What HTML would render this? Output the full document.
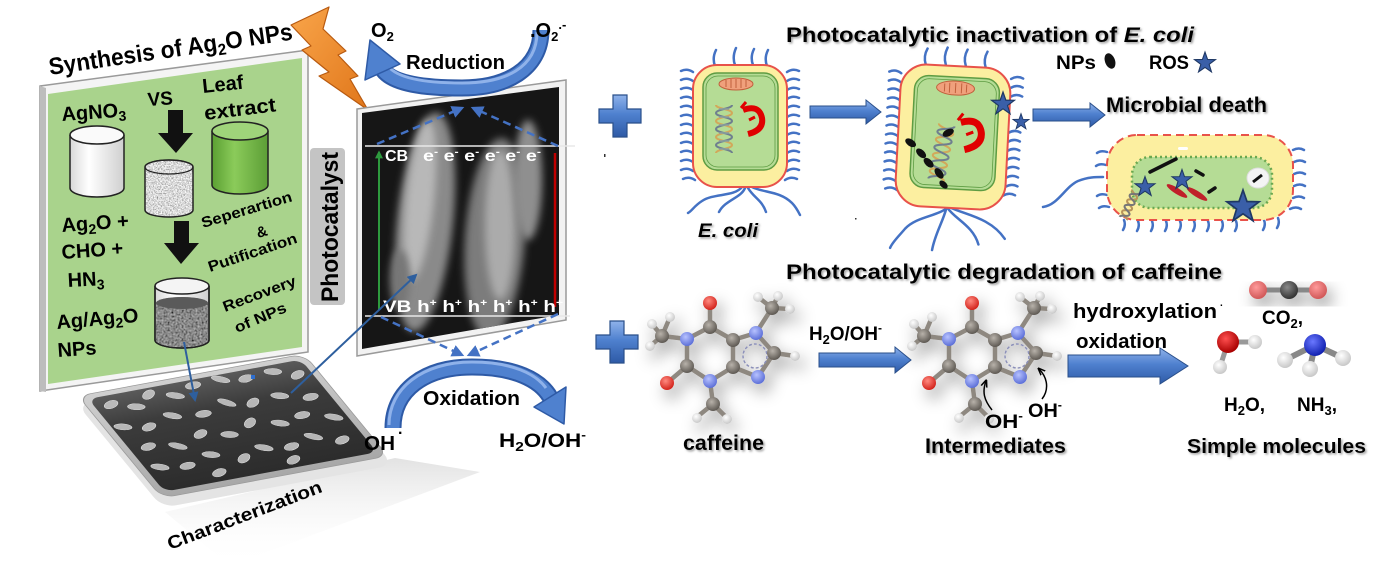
<!DOCTYPE html>
<html><head><meta charset="utf-8">
<style>
html,body{margin:0;padding:0;background:#fff;}
svg{display:block;}
text{font-family:"Liberation Sans",Arial,sans-serif;font-weight:bold;fill:#000;}
</style></head><body>
<svg width="1390" height="574" viewBox="0 0 1390 574" xmlns="http://www.w3.org/2000/svg" xmlns:xlink="http://www.w3.org/1999/xlink">
<defs>
  <linearGradient id="blueV" x1="0" y1="0" x2="0" y2="1">
    <stop offset="0" stop-color="#8fb2ea"/><stop offset="0.45" stop-color="#4f81cf"/><stop offset="1" stop-color="#2e5aa6"/>
  </linearGradient>
  <linearGradient id="orangeG" x1="0" y1="0" x2="1" y2="1">
    <stop offset="0" stop-color="#f9a54a"/><stop offset="1" stop-color="#e0761a"/>
  </linearGradient>
  <linearGradient id="whiteCyl" x1="0" y1="0" x2="1" y2="0">
    <stop offset="0" stop-color="#d8d8d8"/><stop offset="0.35" stop-color="#ffffff"/><stop offset="1" stop-color="#cfcfcf"/>
  </linearGradient>
  <linearGradient id="greenCyl" x1="0" y1="0" x2="1" y2="0">
    <stop offset="0" stop-color="#5aa032"/><stop offset="0.4" stop-color="#8bcb5a"/><stop offset="1" stop-color="#5c9e36"/>
  </linearGradient>
  <linearGradient id="trayRim" x1="0" y1="0" x2="0" y2="1">
    <stop offset="0" stop-color="#d0d0d0"/><stop offset="1" stop-color="#a8a8a8"/>
  </linearGradient>
  <linearGradient id="trayIn" x1="0" y1="0" x2="0" y2="1">
    <stop offset="0" stop-color="#5a5a5a"/><stop offset="0.3" stop-color="#3c3c3c"/><stop offset="1" stop-color="#2c2c2c"/>
  </linearGradient>
  <linearGradient id="refl" x1="0" y1="0" x2="0" y2="1">
    <stop offset="0" stop-color="#cfcfcf" stop-opacity="0.6"/><stop offset="1" stop-color="#ffffff" stop-opacity="0"/>
  </linearGradient>
  <radialGradient id="gC" cx="0.4" cy="0.35" r="0.65"><stop offset="0" stop-color="#b8b2aa"/><stop offset="1" stop-color="#5f5a54"/></radialGradient>
  <radialGradient id="gN" cx="0.4" cy="0.35" r="0.65"><stop offset="0" stop-color="#b7c2ff"/><stop offset="1" stop-color="#5d70d8"/></radialGradient>
  <radialGradient id="gO" cx="0.4" cy="0.35" r="0.65"><stop offset="0" stop-color="#ff8a80"/><stop offset="1" stop-color="#d3241c"/></radialGradient>
  <radialGradient id="gH" cx="0.4" cy="0.35" r="0.65"><stop offset="0" stop-color="#ffffff"/><stop offset="1" stop-color="#c8c8c8"/></radialGradient>
  <radialGradient id="gO2" cx="0.4" cy="0.35" r="0.65"><stop offset="0" stop-color="#ff9a9a"/><stop offset="1" stop-color="#d05858"/></radialGradient>
  <radialGradient id="gCd" cx="0.4" cy="0.35" r="0.65"><stop offset="0" stop-color="#8a8a8a"/><stop offset="1" stop-color="#333"/></radialGradient>
  <radialGradient id="gOr" cx="0.4" cy="0.35" r="0.65"><stop offset="0" stop-color="#ff5050"/><stop offset="1" stop-color="#a80000"/></radialGradient>
  <radialGradient id="gNb" cx="0.4" cy="0.35" r="0.65"><stop offset="0" stop-color="#6a78ff"/><stop offset="1" stop-color="#1020b0"/></radialGradient>
  <filter id="blur4" x="-50%" y="-50%" width="200%" height="200%"><feGaussianBlur stdDeviation="4"/></filter>
  <filter id="msh" x="-40%" y="-40%" width="180%" height="180%">
    <feGaussianBlur in="SourceAlpha" stdDeviation="8" result="b"/>
    <feOffset in="b" dx="5" dy="8" result="o"/>
    <feFlood flood-color="#000" flood-opacity="0.4"/>
    <feComposite in2="o" operator="in" result="s"/>
    <feMerge><feMergeNode in="s"/><feMergeNode in="SourceGraphic"/></feMerge>
  </filter>
  <filter id="tsh" x="-5%" y="-30%" width="110%" height="160%">
    <feDropShadow dx="1.5" dy="1.5" stdDeviation="1" flood-color="#888" flood-opacity="0.8"/>
  </filter>
  <filter id="noise" x="0" y="0" width="100%" height="100%">
    <feTurbulence type="fractalNoise" baseFrequency="0.75" numOctaves="2" seed="4"/>
    <feColorMatrix type="saturate" values="0"/>
    <feComponentTransfer>
      <feFuncR type="linear" slope="1.9" intercept="-0.25"/>
      <feFuncG type="linear" slope="1.9" intercept="-0.25"/>
      <feFuncB type="linear" slope="1.9" intercept="-0.25"/>
      <feFuncA type="table" tableValues="1 1"/>
    </feComponentTransfer>
  </filter>
  <filter id="noiseDark" x="0" y="0" width="100%" height="100%">
    <feTurbulence type="fractalNoise" baseFrequency="0.5" numOctaves="2" seed="7"/>
    <feColorMatrix type="saturate" values="0"/>
    <feComponentTransfer>
      <feFuncR type="linear" slope="0.9" intercept="-0.2"/>
      <feFuncG type="linear" slope="0.9" intercept="-0.2"/>
      <feFuncB type="linear" slope="0.9" intercept="-0.2"/>
      <feFuncA type="table" tableValues="1 1"/>
    </feComponentTransfer>
  </filter>
  <marker id="mBlue" viewBox="0 0 10 10" refX="8" refY="5" markerWidth="5" markerHeight="5" orient="auto">
    <path d="M0,0 L10,5 L0,10 Z" fill="#4472c4"/>
  </marker>
  <marker id="mDark" viewBox="0 0 10 10" refX="8" refY="5" markerWidth="5" markerHeight="5" orient="auto">
    <path d="M0,0 L10,5 L0,10 Z" fill="#2e5f9e"/>
  </marker>
  <marker id="mBlack" viewBox="0 0 10 10" refX="8" refY="5" markerWidth="5" markerHeight="5" orient="auto">
    <path d="M0,1 L10,5 L0,9" fill="none" stroke="#000" stroke-width="2"/>
  </marker>
  <marker id="mGreen" viewBox="0 0 10 10" refX="8" refY="5" markerWidth="4" markerHeight="4" orient="auto">
    <path d="M0,0 L10,5 L0,10 Z" fill="#2e9a3e"/>
  </marker>
  <path id="star" d="M0,-10 L2.35,-3.24 9.51,-3.09 3.8,1.24 5.88,8.09 0,4 -5.88,8.09 -3.8,1.24 -9.51,-3.09 -2.35,-3.24Z" fill="#3a5fa8" stroke="#1f3864" stroke-width="1"/>
  <clipPath id="semClip"><polygon points="362,113 559,87 559,315 362,349"/></clipPath>
  <clipPath id="texCyl"><path d="M145,167 A24,7 0 0 1 193,167 V210 A24,7 0 0 1 145,210 Z"/></clipPath>
  <clipPath id="liqClip"><path d="M156,303 A26,6 0 0 1 208,303 V340 A26,7 0 0 1 156,340 Z"/></clipPath>

  <g id="caf">
    <g stroke="#8e8880" stroke-width="4.5" stroke-linecap="round">
      <line x1="710" y1="303" x2="710" y2="327"/>
      <line x1="710" y1="327" x2="687" y2="339"/>
      <line x1="710" y1="327" x2="733" y2="340"/>
      <line x1="687" y1="339" x2="662" y2="336"/>
      <line x1="662" y1="336" x2="670" y2="317"/>
      <line x1="662" y1="336" x2="650" y2="346"/>
      <line x1="662" y1="336" x2="652" y2="324"/>
      <line x1="687" y1="339" x2="687" y2="366"/>
      <line x1="687" y1="366" x2="667" y2="383"/>
      <line x1="687" y1="366" x2="710" y2="381"/>
      <line x1="710" y1="381" x2="713" y2="404"/>
      <line x1="713" y1="404" x2="697" y2="417"/>
      <line x1="713" y1="404" x2="727" y2="418"/>
      <line x1="710" y1="381" x2="733" y2="367"/>
      <line x1="733" y1="367" x2="733" y2="340"/>
      <line x1="733" y1="340" x2="756" y2="333"/>
      <line x1="756" y1="333" x2="772" y2="308"/>
      <line x1="772" y1="308" x2="758" y2="297"/>
      <line x1="772" y1="308" x2="790" y2="309"/>
      <line x1="772" y1="308" x2="778" y2="296"/>
      <line x1="756" y1="333" x2="774" y2="353"/>
      <line x1="774" y1="353" x2="795" y2="356"/>
      <line x1="774" y1="353" x2="758" y2="377"/>
      <line x1="758" y1="377" x2="733" y2="367"/>
    </g>
    <circle cx="755" cy="356" r="12" fill="none" stroke="#8c90b8" stroke-width="1.5" stroke-dasharray="3 2"/>
    <g>
      <circle cx="670" cy="317" r="5" fill="url(#gH)"/>
      <circle cx="650" cy="346" r="5" fill="url(#gH)"/>
      <circle cx="652" cy="324" r="5" fill="url(#gH)"/>
      <circle cx="697" cy="418" r="5" fill="url(#gH)"/>
      <circle cx="727" cy="419" r="5" fill="url(#gH)"/>
      <circle cx="758" cy="297" r="5" fill="url(#gH)"/>
      <circle cx="790" cy="309" r="5" fill="url(#gH)"/>
      <circle cx="778" cy="296" r="5" fill="url(#gH)"/>
      <circle cx="795" cy="356" r="5" fill="url(#gH)"/>
      <circle cx="710" cy="303" r="7" fill="url(#gO)"/>
      <circle cx="667" cy="383" r="7" fill="url(#gO)"/>
      <circle cx="710" cy="327" r="7" fill="url(#gC)"/>
      <circle cx="662" cy="336" r="7" fill="url(#gC)"/>
      <circle cx="687" cy="366" r="7" fill="url(#gC)"/>
      <circle cx="713" cy="404" r="7" fill="url(#gC)"/>
      <circle cx="733" cy="367" r="7" fill="url(#gC)"/>
      <circle cx="733" cy="340" r="7" fill="url(#gC)"/>
      <circle cx="772" cy="308" r="7" fill="url(#gC)"/>
      <circle cx="774" cy="353" r="7" fill="url(#gC)"/>
      <circle cx="687" cy="339" r="7" fill="url(#gN)"/>
      <circle cx="710" cy="381" r="7" fill="url(#gN)"/>
      <circle cx="756" cy="333" r="7" fill="url(#gN)"/>
      <circle cx="758" cy="377" r="7" fill="url(#gN)"/>
    </g>
  </g>
</defs>

<!-- ============ LEFT: SYNTHESIS PANEL ============ -->
<polygon points="40,86 308,50 308,352 40,391" fill="#f4f4f4" stroke="#9a9a9a" stroke-width="1.5"/>
<polygon points="40,86 46,88 46,392 40,391" fill="#bdbdbd"/>
<polygon points="48,94 302,58 302,347 48,384" fill="#a9d38c"/>

<g transform="translate(50,75) rotate(-8.3)">
  <text x="0" y="0" font-size="24" textLength="246" lengthAdjust="spacingAndGlyphs">Synthesis of Ag<tspan font-size="16" dy="5">2</tspan><tspan dy="-5">O NPs</tspan></text>
</g>

<!-- lightning -->
<polygon points="329,7 291,25 311,46 302,50 329,72 319,76 368,110 350,79 358,76 338,55 346,51 323,29" fill="url(#orangeG)" stroke="#b85a10" stroke-width="1.2" stroke-linejoin="round"/>

<!-- texts in panel -->
<text x="62" y="121" font-size="20" transform="rotate(-4 62 121)">AgNO<tspan font-size="14" dy="4">3</tspan></text>
<text x="148" y="106" font-size="19" transform="rotate(-4 148 106)">VS</text>
<text x="203" y="93" font-size="20" transform="rotate(-6 203 93)">Leaf</text>
<text x="205" y="120" font-size="20" textLength="72" lengthAdjust="spacingAndGlyphs" transform="rotate(-7 205 120)">extract</text>
<text x="62" y="232" font-size="20" transform="rotate(-4 62 232)">Ag<tspan font-size="14" dy="4">2</tspan><tspan dy="-4">O +</tspan></text>
<text x="62" y="259" font-size="20" transform="rotate(-4 62 259)">CHO +</text>
<text x="68" y="287" font-size="20" transform="rotate(-3 68 287)">HN<tspan font-size="14" dy="4">3</tspan></text>
<text x="57" y="329" font-size="20" transform="rotate(-5 57 329)">Ag/Ag<tspan font-size="14" dy="4">2</tspan><tspan dy="-4">O</tspan></text>
<text x="58" y="357" font-size="20" transform="rotate(-4 58 357)">NPs</text>
<text x="0" y="0" font-size="15" textLength="94" lengthAdjust="spacingAndGlyphs" transform="translate(203,228) rotate(-16.7)">Seperartion</text>
<text x="0" y="0" font-size="15" transform="translate(258,238) rotate(-16)">&amp;</text>
<text x="0" y="0" font-size="15" textLength="93" lengthAdjust="spacingAndGlyphs" transform="translate(210,272) rotate(-18.5)">Putification</text>
<text x="0" y="0" font-size="15" textLength="77" lengthAdjust="spacingAndGlyphs" transform="translate(225,312) rotate(-20.5)">Recovery</text>
<text x="0" y="0" font-size="15" textLength="55" lengthAdjust="spacingAndGlyphs" transform="translate(237,333) rotate(-23)">of NPs</text>

<!-- white cylinder -->
<path d="M70,135 V188 A27,9 0 0 0 124,188 V135" fill="url(#whiteCyl)" stroke="#222" stroke-width="1.5"/>
<ellipse cx="97" cy="135" rx="27" ry="9" fill="#fafafa" stroke="#222" stroke-width="1.5"/>
<!-- textured cylinder -->
<rect x="140" y="155" width="60" height="65" fill="#999" filter="url(#noise)" clip-path="url(#texCyl)"/>
<path d="M145,167 A24,7 0 0 1 193,167 V210 A24,7 0 0 1 145,210 Z" fill="none" stroke="#222" stroke-width="1.5"/>
<ellipse cx="169" cy="167" rx="24" ry="7" fill="none" stroke="#222" stroke-width="1.2"/>
<!-- green cylinder -->
<path d="M212,131 V185 A28,9 0 0 0 268,185 V131" fill="url(#greenCyl)" stroke="#222" stroke-width="1.5"/>
<ellipse cx="240" cy="131" rx="28" ry="9" fill="#9fd47a" stroke="#222" stroke-width="1.5"/>
<!-- black arrows -->
<path d="M168,110 H183 V133 H193 L176,153 L158,133 H168 Z" fill="#111"/>
<path d="M174,221 H189 V243 H199 L181,264 L164,243 H174 Z" fill="#111"/>
<!-- beaker -->
<path d="M155,286 V340 A27,8 0 0 0 209,340 V286" fill="url(#whiteCyl)" stroke="#222" stroke-width="1.5"/>
<rect x="150" y="295" width="65" height="55" fill="#444" filter="url(#noiseDark)" clip-path="url(#liqClip)"/>
<ellipse cx="182" cy="303" rx="26" ry="6" fill="#5a5a5a"/>
<path d="M155,286 V340 A27,8 0 0 0 209,340 V286" fill="none" stroke="#222" stroke-width="1.5"/>
<ellipse cx="182" cy="286" rx="27" ry="8" fill="#f4f4f4" stroke="#222" stroke-width="1.5"/>

<!-- Photocatalyst label -->
<rect x="310" y="148" width="35" height="157" rx="4" fill="#c4c4c4"/>
<text x="0" y="0" font-size="24" text-anchor="middle" textLength="150" lengthAdjust="spacingAndGlyphs" transform="translate(338,227) rotate(-90)">Photocatalyst</text>

<!-- ============ TRAY ============ -->
<polygon points="165,512 395,458 480,472 230,566" fill="url(#refl)"/>
<g transform="matrix(1.13,-0.21,0.7,0.85,78,402)">
  <rect x="-2" y="2" width="204" height="122" rx="12" fill="#e4e4e4"/>
</g>
<g transform="matrix(1.13,-0.21,0.7,0.85,78,396)">
  <rect x="0" y="0" width="200" height="120" rx="11" fill="url(#trayRim)" stroke="#9a9a9a" stroke-width="0.8"/>
  <rect x="6" y="5" width="188" height="109" rx="8" fill="url(#trayIn)"/>
  <g fill="#cdcdcd" fill-opacity="0.85" stroke="#eeeeee" stroke-width="0.4">
    <ellipse cx="20" cy="15" rx="7" ry="3.5" transform="rotate(-20 20 15)"/>
    <ellipse cx="38" cy="22" rx="7" ry="3.5" transform="rotate(10 38 22)"/>
    <ellipse cx="55" cy="12" rx="7" ry="3.5" transform="rotate(-30 55 12)"/>
    <ellipse cx="75" cy="18" rx="7" ry="3.5" transform="rotate(20 75 18)"/>
    <ellipse cx="95" cy="11" rx="7" ry="3.5" transform="rotate(-10 95 11)"/>
    <ellipse cx="120" cy="10" rx="7" ry="3.5" transform="rotate(30 120 10)"/>
    <ellipse cx="140" cy="14" rx="7" ry="3.5" transform="rotate(-15 140 14)"/>
    <ellipse cx="165" cy="12" rx="7" ry="3.5" transform="rotate(10 165 12)"/>
    <ellipse cx="182" cy="20" rx="7" ry="3.5" transform="rotate(-25 182 20)"/>
    <ellipse cx="15" cy="40" rx="7" ry="3.5" transform="rotate(15 15 40)"/>
    <ellipse cx="35" cy="45" rx="7" ry="3.5" transform="rotate(-20 35 45)"/>
    <ellipse cx="60" cy="38" rx="7" ry="3.5" transform="rotate(25 60 38)"/>
    <ellipse cx="85" cy="42" rx="7" ry="3.5" transform="rotate(-5 85 42)"/>
    <ellipse cx="110" cy="35" rx="7" ry="3.5" transform="rotate(40 110 35)"/>
    <ellipse cx="130" cy="40" rx="7" ry="3.5" transform="rotate(-30 130 40)"/>
    <ellipse cx="155" cy="38" rx="7" ry="3.5" transform="rotate(15 155 38)"/>
    <ellipse cx="178" cy="45" rx="7" ry="3.5" transform="rotate(-10 178 45)"/>
    <ellipse cx="22" cy="65" rx="7" ry="3.5" transform="rotate(-15 22 65)"/>
    <ellipse cx="45" cy="70" rx="7" ry="3.5" transform="rotate(30 45 70)"/>
    <ellipse cx="70" cy="62" rx="7" ry="3.5" transform="rotate(-25 70 62)"/>
    <ellipse cx="92" cy="68" rx="7" ry="3.5" transform="rotate(10 92 68)"/>
    <ellipse cx="115" cy="60" rx="7" ry="3.5" transform="rotate(-35 115 60)"/>
    <ellipse cx="138" cy="66" rx="7" ry="3.5" transform="rotate(20 138 66)"/>
    <ellipse cx="160" cy="62" rx="7" ry="3.5" transform="rotate(-10 160 62)"/>
    <ellipse cx="183" cy="70" rx="7" ry="3.5" transform="rotate(25 183 70)"/>
    <ellipse cx="18" cy="88" rx="7" ry="3.5" transform="rotate(20 18 88)"/>
    <ellipse cx="40" cy="92" rx="7" ry="3.5" transform="rotate(-10 40 92)"/>
    <ellipse cx="65" cy="85" rx="7" ry="3.5" transform="rotate(15 65 85)"/>
    <ellipse cx="88" cy="95" rx="7" ry="3.5" transform="rotate(-30 88 95)"/>
    <ellipse cx="110" cy="88" rx="7" ry="3.5" transform="rotate(25 110 88)"/>
    <ellipse cx="132" cy="92" rx="7" ry="3.5" transform="rotate(-15 132 92)"/>
    <ellipse cx="155" cy="86" rx="7" ry="3.5" transform="rotate(30 155 86)"/>
    <ellipse cx="175" cy="95" rx="7" ry="3.5" transform="rotate(-20 175 95)"/>
    <ellipse cx="60" cy="105" rx="7" ry="3.5" transform="rotate(-20 60 105)"/>
    <ellipse cx="125" cy="106" rx="7" ry="3.5" transform="rotate(-25 125 106)"/>
  </g>
</g>
<text x="0" y="0" font-size="18" textLength="164" lengthAdjust="spacingAndGlyphs" transform="translate(170,550) rotate(-20.8)">Characterization</text>

<!-- ============ SEM PANEL ============ -->
<polygon points="357,109 566,80 566,320 357,356" fill="#f2f2f2" stroke="#9a9a9a" stroke-width="1.5"/>
<polygon points="362,113 559,87 559,315 362,349" fill="#161616"/>
<g clip-path="url(#semClip)">
  <ellipse cx="425" cy="222" rx="28" ry="110" transform="rotate(6 425 222)" fill="#8a8a8a" filter="url(#blur4)"/>
  <ellipse cx="420" cy="200" rx="14" ry="80" transform="rotate(6 420 200)" fill="#b8b8b8" filter="url(#blur4)"/>
  <ellipse cx="495" cy="238" rx="30" ry="100" transform="rotate(4 495 238)" fill="#7c7c7c" filter="url(#blur4)"/>
  <ellipse cx="500" cy="225" rx="15" ry="75" fill="#ababab" filter="url(#blur4)"/>
  <ellipse cx="528" cy="180" rx="14" ry="60" fill="#8f8f8f" filter="url(#blur4)"/>
  <ellipse cx="400" cy="280" rx="10" ry="30" fill="#777" filter="url(#blur4)"/>
</g>
<line x1="365" y1="146" x2="575" y2="146" stroke="#e8e8e8" stroke-width="1.5"/>
<line x1="365" y1="316" x2="570" y2="316" stroke="#e8e8e8" stroke-width="1.5"/>
<line x1="379" y1="310" x2="379" y2="152" stroke="#2e9a3e" stroke-width="2" marker-end="url(#mGreen)"/>
<line x1="555" y1="307" x2="555" y2="153" stroke="#c00000" stroke-width="2.5"/>
<text x="385" y="161" font-size="16" style="fill:#fff">CB</text>
<text x="423" y="161" font-size="16" style="fill:#fff" textLength="118" lengthAdjust="spacingAndGlyphs">e<tspan font-size="10" dy="-6">-</tspan><tspan dy="6"> e</tspan><tspan font-size="10" dy="-6">-</tspan><tspan dy="6"> e</tspan><tspan font-size="10" dy="-6">-</tspan><tspan dy="6"> e</tspan><tspan font-size="10" dy="-6">-</tspan><tspan dy="6"> e</tspan><tspan font-size="10" dy="-6">-</tspan><tspan dy="6"> e</tspan><tspan font-size="10" dy="-6">-</tspan></text>
<text x="383" y="312" font-size="17" style="fill:#fff" textLength="180" lengthAdjust="spacingAndGlyphs">VB h<tspan font-size="10" dy="-6">+</tspan><tspan dy="6"> h</tspan><tspan font-size="10" dy="-6">+</tspan><tspan dy="6"> h</tspan><tspan font-size="10" dy="-6">+</tspan><tspan dy="6"> h</tspan><tspan font-size="10" dy="-6">+</tspan><tspan dy="6"> h</tspan><tspan font-size="10" dy="-6">+</tspan><tspan dy="6"> h</tspan><tspan font-size="10" dy="-6">+</tspan></text>
<!-- dashed arrows -->
<g stroke="#4472c4" stroke-width="2.5" stroke-dasharray="8 5" fill="none">
  <line x1="377" y1="144" x2="462" y2="108" marker-end="url(#mBlue)"/>
  <line x1="558" y1="146" x2="473" y2="108" marker-end="url(#mBlue)"/>
  <line x1="381" y1="317" x2="462" y2="355" marker-end="url(#mBlue)"/>
  <line x1="558" y1="314" x2="469" y2="355" marker-end="url(#mBlue)"/>
</g>
<!-- solid connectors -->
<line x1="291" y1="393" x2="416" y2="275" stroke="#2e5f9e" stroke-width="2" marker-end="url(#mDark)"/>
<line x1="184" y1="342" x2="195" y2="400" stroke="#2e5f9e" stroke-width="2" marker-end="url(#mDark)"/>
<rect x="251" y="375" width="4" height="4" fill="#2e6fd0"/>

<!-- ============ REDUCTION ARC ============ -->
<path d="M541,30 C541,70 505,88 462,88 C425,88 393,84 383,70" fill="none" stroke="#2e5aa6" stroke-width="17"/>
<path d="M541,30 C541,70 505,88 462,88 C425,88 393,84 383,70" fill="none" stroke="#4f81cf" stroke-width="13"/>
<path d="M537,32 C537,68 505,83 462,83 C428,83 398,79 388,66" fill="none" stroke="#8fb2ea" stroke-width="3"/>
<polygon points="400,64 365,80 370,40" fill="#4f81cf" stroke="#2e5aa6" stroke-width="1.5" stroke-linejoin="round"/>
<text x="406" y="69" font-size="20" textLength="99" lengthAdjust="spacingAndGlyphs">Reduction</text>
<text x="371" y="37" font-size="20">O<tspan font-size="13" dy="4">2</tspan></text>
<text x="530" y="37" font-size="20">.O<tspan font-size="13" dy="4">2</tspan><tspan font-size="13" dy="-12">.-</tspan></text>

<!-- ============ OXIDATION ARC ============ -->
<path d="M393,428 C393,390 425,367 472,367 C515,367 540,380 550,397" fill="none" stroke="#2e5aa6" stroke-width="17"/>
<path d="M393,428 C393,390 425,367 472,367 C515,367 540,380 550,397" fill="none" stroke="#4f81cf" stroke-width="13"/>
<path d="M389,425 C389,388 423,362 472,362 C512,362 536,374 546,388" fill="none" stroke="#8fb2ea" stroke-width="3"/>
<polygon points="534,407 566,387 564,424" fill="#4f81cf" stroke="#2e5aa6" stroke-width="1.5" stroke-linejoin="round"/>
<text x="423" y="405" font-size="20" textLength="97" lengthAdjust="spacingAndGlyphs">Oxidation</text>
<text x="364" y="450" font-size="20" textLength="31" lengthAdjust="spacingAndGlyphs">OH</text>
<text x="398" y="434" font-size="16">.</text>
<text x="499" y="447" font-size="19" textLength="87" lengthAdjust="spacingAndGlyphs">H<tspan font-size="13" dy="4">2</tspan><tspan dy="-4">O/OH</tspan><tspan font-size="12" dy="-8">-</tspan></text>

<!-- ============ PLUS SIGNS ============ -->
<path d="M613,95 h14 v14 h14 v14 h-14 v14 h-14 v-14 h-14 v-14 h14 Z" fill="url(#blueV)" stroke="#2a4f8a" stroke-width="1.2"/>
<path d="M610,321 h14 v14 h14 v14 h-14 v14 h-14 v-14 h-14 v-14 h14 Z" fill="url(#blueV)" stroke="#2a4f8a" stroke-width="1.2"/>
<rect x="604" y="154" width="1.5" height="3" fill="#333"/>

<!-- ============ RIGHT TOP: E. COLI ============ -->
<text x="786" y="42" font-size="21" textLength="408" lengthAdjust="spacingAndGlyphs" filter="url(#tsh)">Photocatalytic  inactivation of <tspan font-style="italic">E. coli</tspan></text>
<text x="1056" y="69" font-size="19" textLength="40" lengthAdjust="spacingAndGlyphs">NPs</text>
<ellipse cx="1110" cy="61" rx="5" ry="8" transform="rotate(-20 1110 61)" fill="#111"/>
<text x="1149" y="69" font-size="19" textLength="40" lengthAdjust="spacingAndGlyphs">ROS</text>
<use xlink:href="#star" href="#star" transform="translate(1205,63) scale(1.1)"/>

<!-- cell 1 -->
<g fill="none" stroke="#4472c4" stroke-width="2.5" stroke-linecap="round">
  <path d="M693,72 q-6,-4 -12,-1 M693,81 q-6,-4 -12,-1 M693,90 q-6,-4 -12,-1 M693,99 q-6,-4 -12,-1 M693,108 q-6,-4 -12,-1 M693,117 q-6,-4 -12,-1 M693,126 q-6,-4 -12,-1 M693,135 q-6,-4 -12,-1 M693,144 q-6,-4 -12,-1 M693,153 q-6,-4 -12,-1 M693,162 q-6,-4 -12,-1 M693,171 q-6,-4 -12,-1 M695,180 q-6,-4 -12,-1"/>
  <path d="M787,72 q6,-4 12,-1 M787,81 q6,-4 12,-1 M787,90 q6,-4 12,-1 M787,99 q6,-4 12,-1 M787,108 q6,-4 12,-1 M787,117 q6,-4 12,-1 M787,126 q6,-4 12,-1 M787,135 q6,-4 12,-1 M787,144 q6,-4 12,-1 M787,153 q6,-4 12,-1 M787,162 q6,-4 12,-1 M787,171 q6,-4 12,-1 M785,180 q6,-4 12,-1"/>
  <path d="M715,66 q-3,-8 1,-16 M735,65 q-3,-8 1,-17 M753,65 q-3,-8 1,-16 M767,66 q-3,-8 1,-16"/>
  <path d="M742,187 c-8,10 -28,6 -40,14 c-8,5 -10,10 -14,12"/>
  <path d="M745,188 c-4,10 -20,12 -26,24"/>
  <path d="M748,188 c6,10 14,12 18,24"/>
  <path d="M752,187 c12,6 28,4 40,16 c4,4 6,8 8,12"/>
</g>
<rect x="693" y="65" width="94" height="122" rx="24" fill="#fcefa0" stroke="#e8524a" stroke-width="2"/>
<rect x="703" y="73" width="75" height="97" rx="14" fill="#b5dc95" stroke="#5e9c43" stroke-width="1.5"/>
<rect x="706" y="76" width="69" height="91" rx="12" fill="none" stroke="#5e9c43" stroke-width="0.8"/>
<ellipse cx="736" cy="84" rx="17" ry="6" fill="#f0a07c" stroke="#c0603c" stroke-width="1"/>
<path d="M726,80 v7 M731,79 v9 M736,79 v9 M741,79 v9 M746,80 v7" stroke="#c0603c" stroke-width="1"/>
<g fill="none" stroke-width="2">
  <path d="M716,105 C716,109 732,109 732,113 S716,117 716,121 S732,125 732,129 S716,133 716,137 S732,141 732,145 S716,149 716,153" stroke="#d2a85a"/>
  <path d="M732,105 C732,109 716,109 716,113 S732,117 732,121 S716,125 716,129 S732,133 732,137 S716,141 716,145 S732,149 732,153" stroke="#6f7f8f"/>
  <path d="M719,109 h10 M719,117 h10 M719,125 h10 M719,133 h10 M719,141 h10 M719,149 h10" stroke="#8aa0a0" stroke-width="1.5"/>
</g>
<path d="M743,110 q16,-6 19,8 q2,12 -14,16" fill="none" stroke="#e00000" stroke-width="6"/>
<path d="M741,108 l5,-6 M749,120 l6,-3" stroke="#e00000" stroke-width="3"/>
<text x="698" y="237" font-size="19" font-style="italic" textLength="60" lengthAdjust="spacingAndGlyphs" filter="url(#tsh)">E. coli</text>
<rect x="855" y="218" width="1.5" height="1.5" fill="#333"/>

<!-- arrow 1 -->
<path d="M810,106 H866 V100 L881,112 L866,124 V118 H810 Z" fill="url(#blueV)" stroke="#2a4f8a" stroke-width="1"/>

<!-- cell 2 -->
<g transform="rotate(3 953 137)">
  <g fill="none" stroke="#4472c4" stroke-width="2.5" stroke-linecap="round">
    <path d="M898,76 q-6,-4 -12,-1 M898,85 q-6,-4 -12,-1 M898,94 q-6,-4 -12,-1 M898,103 q-6,-4 -12,-1 M898,112 q-6,-4 -12,-1 M898,121 q-6,-4 -12,-1 M898,130 q-6,-4 -12,-1 M898,139 q-6,-4 -12,-1 M898,148 q-6,-4 -12,-1 M898,157 q-6,-4 -12,-1 M898,166 q-6,-4 -12,-1 M898,175 q-6,-4 -12,-1 M898,184 q-6,-4 -12,-1 M900,193 q-6,-4 -12,-1"/>
    <path d="M1008,76 q6,-4 12,-1 M1008,85 q6,-4 12,-1 M1008,94 q6,-4 12,-1 M1008,130 q6,-4 12,-1 M1008,139 q6,-4 12,-1 M1008,148 q6,-4 12,-1 M1008,157 q6,-4 12,-1 M1008,166 q6,-4 12,-1 M1008,175 q6,-4 12,-1 M1008,184 q6,-4 12,-1 M1006,193 q6,-4 12,-1"/>
    <path d="M922,66 q-3,-8 1,-16 M942,65 q-3,-8 1,-17 M962,65 q-3,-8 1,-16 M982,66 q-3,-8 1,-16"/>
    <path d="M950,209 c-10,8 -30,10 -40,22 c-6,8 -12,14 -14,20"/>
    <path d="M950,209 c-3,14 -10,26 -12,42"/>
    <path d="M952,209 c8,10 26,16 32,34"/>
    <path d="M955,208 c15,6 40,8 55,28"/>
  </g>
  <rect x="898" y="66" width="110" height="142" rx="26" fill="#fcefa0" stroke="#e8524a" stroke-width="2"/>
  <rect x="912" y="77" width="85" height="112" rx="14" fill="#b5dc95" stroke="#5e9c43" stroke-width="1.5"/>
  <rect x="915" y="80" width="79" height="106" rx="12" fill="none" stroke="#5e9c43" stroke-width="0.8"/>
  <ellipse cx="953" cy="88" rx="19" ry="7" fill="#f0a07c" stroke="#c0603c" stroke-width="1"/>
  <path d="M942,84 v8 M947,83 v10 M953,83 v10 M959,83 v10 M964,84 v8" stroke="#c0603c" stroke-width="1"/>
  <g fill="none" stroke-width="2" transform="rotate(8 942 155)">
    <path d="M934,125 C934,129 950,129 950,133 S934,137 934,141 S950,145 950,149 S934,153 934,157 S950,161 950,165 S934,169 934,173 S950,177 950,181" stroke="#d2a85a"/>
    <path d="M950,125 C950,129 934,129 934,133 S950,137 950,141 S934,145 934,149 S950,153 950,157 S934,161 934,165 S950,169 950,173 S934,177 934,181" stroke="#6f7f8f"/>
  </g>
  <path d="M960,122 q18,-6 21,9 q2,13 -16,18" fill="none" stroke="#e00000" stroke-width="7"/>
  <path d="M957,120 l5,-7 M966,134 l7,-3" stroke="#e00000" stroke-width="3"/>
  <g fill="#111">
    <ellipse cx="911" cy="145" rx="6" ry="3.5" transform="rotate(30 911 145)"/>
    <ellipse cx="922" cy="155" rx="6" ry="3.5" transform="rotate(40 922 155)"/>
    <ellipse cx="930" cy="164" rx="6" ry="3.5" transform="rotate(40 930 164)"/>
    <ellipse cx="941" cy="174" rx="6" ry="3.5" transform="rotate(50 941 174)"/>
    <ellipse cx="948" cy="133" rx="6" ry="3.5" transform="rotate(-30 948 133)"/>
    <ellipse cx="946" cy="185" rx="5" ry="3" transform="rotate(40 946 185)"/>
  </g>
</g>
<use xlink:href="#star" href="#star" transform="translate(1003,104) scale(1.2)"/>
<use xlink:href="#star" href="#star" transform="translate(1021,122) scale(0.85)"/>

<!-- arrow 2 -->
<path d="M1033,109 H1090 V103 L1105,115 L1090,127 V121 H1033 Z" fill="url(#blueV)" stroke="#2a4f8a" stroke-width="1"/>
<text x="1106" y="112" font-size="21" textLength="161" lengthAdjust="spacingAndGlyphs" filter="url(#tsh)">Microbial death</text>

<!-- dead cell -->
<g fill="none" stroke="#4472c4" stroke-width="2.5" stroke-linecap="round">
  <path d="M1043,207 c15,-2 22,-20 35,-26 c10,-4 18,-4 25,-4"/>
  <path d="M1124,220 q2,5 -1,10 M1138,221 q2,5 -1,10 M1152,221 q2,5 -1,10 M1166,221 q2,5 -1,10 M1180,221 q2,5 -1,10 M1194,221 q2,5 -1,10 M1208,221 q2,5 -1,10 M1222,221 q2,5 -1,10 M1236,221 q2,5 -1,10 M1264,220 q2,5 -1,10 M1278,218 q2,5 -1,10"/>
  <path d="M1293,150 q6,-3 11,0 M1294,162 q6,-3 11,0 M1294,174 q6,-3 11,0 M1294,186 q6,-3 11,0 M1293,198 q6,-3 11,0 M1290,209 q6,-3 11,0"/>
  <path d="M1107,152 q-6,-2 -10,1 M1106,165 q-6,-2 -10,1 M1107,195 q-6,-2 -10,1 M1109,207 q-6,-2 -10,1"/>
</g>
<rect x="1107" y="135" width="186" height="85" rx="30" fill="#fcefa0" stroke="#e8524a" stroke-width="2" stroke-dasharray="8 5"/>
<rect x="1132" y="157" width="140" height="51" rx="18" fill="#b5dc95" stroke="#6aa84f" stroke-width="2.5" stroke-dasharray="2 3"/>
<rect x="1178" y="147" width="10" height="3" rx="1.5" fill="#fff"/>
<ellipse cx="1258" cy="178" rx="11" ry="10" fill="#f4f4f4" stroke="#ddd"/>
<path d="M1253,182 l9,-7" stroke="#111" stroke-width="3"/>
<path d="M1150,172 l26,-13 M1196,171 l7,4 M1209,192 l6,-4" stroke="#111" stroke-width="3.5" stroke-linecap="round"/>
<ellipse cx="1177" cy="191" rx="12" ry="3" transform="rotate(32 1177 191)" fill="#c0202a"/>
<ellipse cx="1197" cy="194" rx="12" ry="3" transform="rotate(32 1197 194)" fill="#c0202a"/>
<g fill="none" stroke-width="2" transform="rotate(25 1130 204)">
  <path d="M1126,190 C1126,193 1134,193 1134,196 S1126,199 1126,202 S1134,205 1134,208 S1126,211 1126,214 S1134,217 1134,220" stroke="#b8945a"/>
  <path d="M1134,190 C1134,193 1126,193 1126,196 S1134,199 1134,202 S1126,205 1126,208 S1134,211 1134,214 S1126,217 1126,220" stroke="#777"/>
</g>
<use xlink:href="#star" href="#star" transform="translate(1145,187) scale(1.05)"/>
<use xlink:href="#star" href="#star" transform="translate(1182,180) scale(1.05)"/>
<use xlink:href="#star" href="#star" transform="translate(1243,207) scale(1.7)"/>

<!-- ============ RIGHT BOTTOM: CAFFEINE ============ -->
<text x="786" y="279" font-size="21" textLength="436" lengthAdjust="spacingAndGlyphs" filter="url(#tsh)">Photocatalytic  degradation of caffeine</text>

<g filter="url(#msh)"><use xlink:href="#caf" href="#caf"/></g>
<g filter="url(#msh)"><use xlink:href="#caf" href="#caf" x="262"/></g>

<text x="683" y="450" font-size="21" textLength="81" lengthAdjust="spacingAndGlyphs" filter="url(#tsh)">caffeine</text>
<text x="809" y="340" font-size="19" textLength="73" lengthAdjust="spacingAndGlyphs">H<tspan font-size="13" dy="4">2</tspan><tspan dy="-4">O/OH</tspan><tspan font-size="12" dy="-8">-</tspan></text>
<path d="M819,353 H895 V347 L911,360 L895,373 V367 H819 Z" fill="url(#blueV)" stroke="#2a4f8a" stroke-width="1"/>

<path d="M992,410 C984,400 982,392 986,381" fill="none" stroke="#000" stroke-width="1.5" marker-end="url(#mBlack)"/>
<path d="M1042,399 C1049,390 1048,378 1039,369" fill="none" stroke="#000" stroke-width="1.5" marker-end="url(#mBlack)"/>
<text x="985" y="428" font-size="19" textLength="38" lengthAdjust="spacingAndGlyphs">OH<tspan font-size="12" dy="-8">-</tspan></text>
<text x="1028" y="417" font-size="19" textLength="34" lengthAdjust="spacingAndGlyphs">OH<tspan font-size="12" dy="-8">-</tspan></text>
<text x="925" y="453" font-size="21" textLength="141" lengthAdjust="spacingAndGlyphs" filter="url(#tsh)">Intermediates</text>

<text x="1073" y="318" font-size="20" textLength="144" lengthAdjust="spacingAndGlyphs">hydroxylation</text>
<text x="1220" y="306" font-size="10">.</text>
<text x="1076" y="348" font-size="20" textLength="91" lengthAdjust="spacingAndGlyphs">oxidation</text>
<path d="M1068,355 H1160 V348 L1188,366 L1160,384 V377 H1068 Z" fill="url(#blueV)" stroke="#2a4f8a" stroke-width="1"/>

<!-- CO2 -->
<g filter="url(#msh)">
  <line x1="1258" y1="290" x2="1318" y2="290" stroke="#888" stroke-width="5"/>
  <circle cx="1258" cy="290" r="9" fill="url(#gO2)"/>
  <circle cx="1318" cy="290" r="9" fill="url(#gO2)"/>
  <circle cx="1289" cy="290" r="9" fill="url(#gCd)"/>
</g>
<text x="1262" y="324" font-size="19">CO<tspan font-size="13" dy="4">2</tspan><tspan dy="-4">,</tspan></text>
<!-- H2O -->
<g>
  <line x1="1228" y1="342" x2="1255" y2="342" stroke="#999" stroke-width="5"/>
  <line x1="1228" y1="342" x2="1220" y2="367" stroke="#999" stroke-width="5"/>
  <circle cx="1255" cy="342" r="7" fill="url(#gH)"/>
  <circle cx="1220" cy="367" r="7" fill="url(#gH)"/>
  <circle cx="1228" cy="342" r="11" fill="url(#gOr)"/>
</g>
<!-- NH3 -->
<g>
  <line x1="1315" y1="345" x2="1285" y2="360" stroke="#888" stroke-width="6"/>
  <line x1="1315" y1="345" x2="1343" y2="358" stroke="#888" stroke-width="6"/>
  <line x1="1315" y1="345" x2="1310" y2="368" stroke="#888" stroke-width="6"/>
  <circle cx="1315" cy="345" r="11" fill="url(#gNb)"/>
  <circle cx="1285" cy="360" r="8" fill="url(#gH)"/>
  <circle cx="1343" cy="358" r="8" fill="url(#gH)"/>
  <circle cx="1310" cy="369" r="8" fill="url(#gH)"/>
</g>
<text x="1224" y="411" font-size="19">H<tspan font-size="13" dy="4">2</tspan><tspan dy="-4">O,</tspan></text>
<text x="1297" y="411" font-size="19">NH<tspan font-size="13" dy="4">3</tspan><tspan dy="-4">,</tspan></text>
<text x="1187" y="453" font-size="20" textLength="179" lengthAdjust="spacingAndGlyphs" filter="url(#tsh)">Simple molecules</text>
</svg>
</body></html>
